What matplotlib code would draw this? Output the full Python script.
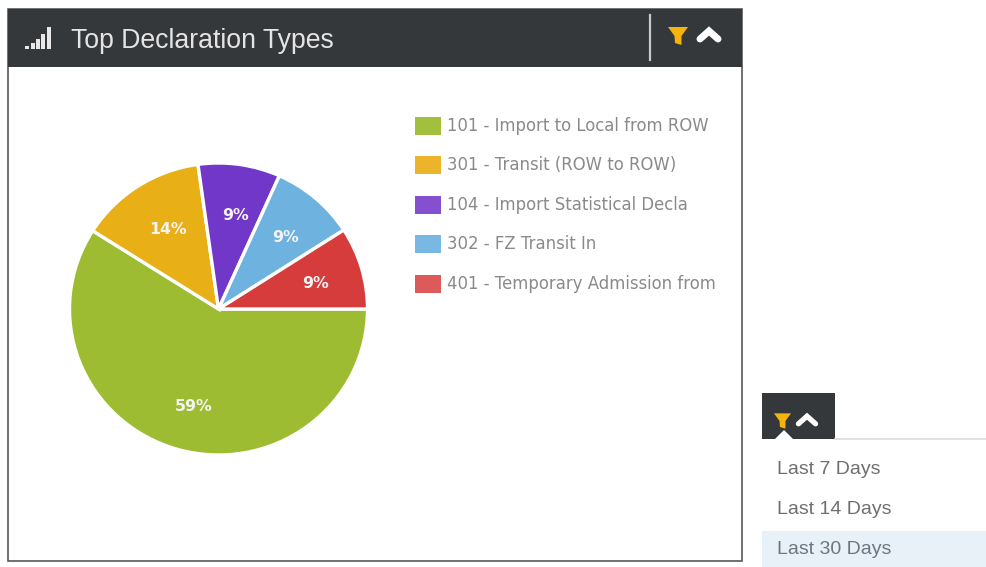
import matplotlib
matplotlib.use('Agg')
import matplotlib.pyplot as plt
from matplotlib.patches import Rectangle, Polygon

plt.rcParams['font.family'] = ['Liberation Sans', 'DejaVu Sans']

# pie data, largest slice first, clockwise from 3 o'clock
categories = ['101 - Import to Local from ROW', '301 - Transit (ROW to ROW)',
              '104 - Import Statistical Decla', '302 - FZ Transit In',
              '401 - Temporary Admission from']
values = [59.0, 13.8, 8.9, 9.2, 9.1]
slice_colors = ['#9dbc31', '#e8b016', '#7137c8', '#6eb3e0', '#d73c3c']
legend_colors = ['#a2c03e', '#ebb42a', '#8450cf', '#79b8e3', '#dd5a5a']
dropdown_items = ['Last 7 Days', 'Last 14 Days', 'Last 30 Days']

W, H = 986, 567
DARK = '#35383b'
fig = plt.figure(figsize=(W / 100, H / 100), dpi=100)

# background axes in pixels for the panel chrome
bg = fig.add_axes([0, 0, 1, 1])
bg.set_xlim(0, W)
bg.set_ylim(H, 0)
bg.axis('off')

# panel and header
bg.add_patch(Rectangle((8, 9), 734, 552, fc='white', ec='#55585b', lw=1.2))
bg.add_patch(Rectangle((8, 9), 734, 58, fc=DARK, ec='none'))
bg.text(71, 40.5, 'Top Declaration Types', color='#e4e4e4', fontsize=19.2, va='center', ha='left')

# signal icon
for x, top in zip([25, 31, 36, 41, 47], [46, 43, 39, 34, 27]):
    bg.add_patch(Rectangle((x, top), 4.4, 49 - top, fc='#e8e8e8', ec='none'))

bg.plot([650, 650], [15, 60], color='#c8c8c8', lw=1.6)


def funnel(x, y, s):
    bg.add_patch(Polygon([(x - 10 * s, y - 9 * s), (x + 10 * s, y - 9 * s), (x + 3.5 * s, y),
                          (x + 3.5 * s, y + 9 * s), (x - 3 * s, y + 7 * s), (x - 3.5 * s, y)],
                         fc='#f5b30e', ec='none'))


def chevron(x, y, s, lw):
    bg.plot([x - 9 * s, x, x + 9 * s], [y + 4 * s, y - 4 * s, y + 4 * s], color='white',
            lw=lw, solid_capstyle='round', solid_joinstyle='miter')


funnel(678, 36, 1)
chevron(709, 35, 1, 5)

# pie is slightly wider than tall in the reference
RX, RY = 149, 146
CX, CY = 218.5, 309
ax = fig.add_axes([(CX - RX) / W, 1 - (CY + RY) / H, 2 * RX / W, 2 * RY / H])
wedges, texts, pcts = ax.pie(values, colors=slice_colors, startangle=0, counterclock=False,
                             radius=1, autopct='%.0f%%', pctdistance=0.66,
                             wedgeprops={'edgecolor': 'white', 'linewidth': 2.4},
                             textprops={'color': '#f4f4f4', 'fontsize': 11.3, 'fontweight': 'bold',
                                        'family': 'DejaVu Sans'})
ax.set_aspect('auto')
ax.set_xlim(-1, 1)
ax.set_ylim(-1, 1)
for w in wedges:
    w.set_clip_on(False)
# labels sit a little right and lower than the default spot
for p in pcts:
    px, py = p.get_position()
    p.set_position((px + 3 / RX, py - 2 / RY))
pcts[0].set_position((pcts[0].get_position()[0], pcts[0].get_position()[1] - 3 / RY))

# legend
for name, color, y in zip(categories, legend_colors, [126, 165, 205, 244, 284]):
    bg.add_patch(Rectangle((415, y - 9), 26, 18, fc=color, ec='none'))
    bg.text(447, y, name, color='#8a8a8a', fontsize=11.9, va='center', ha='left', family='DejaVu Sans')

# dropdown snippet
bg.add_patch(Rectangle((762, 531), 224, 36, fc='#e9f1f8', ec='none'))
bg.add_patch(Rectangle((762, 393), 73, 46, fc=DARK, ec='none'))
bg.plot([835, 986], [438.5, 438.5], color='#dcdcdc', lw=1.2)
funnel(782.5, 421, 0.85)
bg.add_patch(Polygon([(775, 439), (784, 430), (793, 439)], fc='white', ec='none', zorder=3))
chevron(807, 420, 0.95, 3.8)
for label, y, c in zip(dropdown_items, [470, 510, 550], ['#6f6f6f', '#6f6f6f', '#6c7683']):
    bg.text(777, y, label, color=c, fontsize=14, va='center', ha='left')

fig.savefig('out.png', dpi=100)
